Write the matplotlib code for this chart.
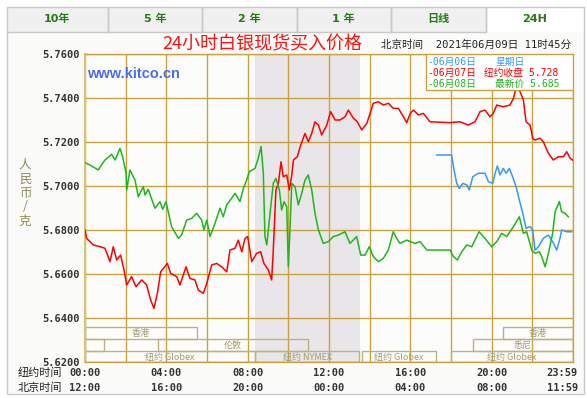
import matplotlib
matplotlib.use('Agg')
import matplotlib.pyplot as plt
from matplotlib.patches import Rectangle

# ---------------- data ----------------
green_h = [0, 0.25, 0.65, 0.98, 1.31, 1.48, 1.72, 1.85, 2.02, 2.05, 2.21, 2.46, 2.62, 2.87, 2.95, 3.11,
           3.44, 3.69, 3.82, 3.98, 4.26, 4.59, 4.75, 5.0, 5.25, 5.49, 5.74, 5.85, 5.99, 6.15, 6.39, 6.64,
           6.80, 6.97, 7.21, 7.38, 7.62, 7.79, 7.95, 8.08, 8.36, 8.52, 8.66, 8.77, 8.85, 8.94, 9.1, 9.26,
           9.39, 9.56, 9.67, 9.79, 9.92, 10.0, 10.08, 10.17, 10.33, 10.49, 10.66, 10.82, 10.98, 11.15,
           11.31, 11.48, 11.72, 11.97, 12.21, 12.46, 12.79, 13.03, 13.36, 13.56, 13.77, 13.98, 14.18,
           14.43, 14.67, 14.92, 15.16, 15.33, 15.49, 15.82, 16.23, 16.48, 16.81, 17.95, 18.12, 18.31,
           18.53, 18.77, 19.02, 19.38, 19.67, 20.0, 20.25, 20.49, 20.74, 21.07, 21.36, 21.56, 21.72,
           21.97, 22.13, 22.35, 22.46, 22.63, 22.79, 23.0, 23.12, 23.33, 23.44, 23.61, 23.77]
green_p = [5.7106, 5.7095, 5.7073, 5.7118, 5.7144, 5.7118, 5.7171, 5.7133, 5.7059, 5.6982, 5.7073,
           5.7027, 5.6951, 5.6997, 5.6959, 5.6985, 5.6899, 5.6929, 5.6894, 5.6929, 5.6815, 5.6762,
           5.6777, 5.6845, 5.6853, 5.6876, 5.6845, 5.6800, 5.6845, 5.6770, 5.6830, 5.6899, 5.6860,
           5.6914, 5.6944, 5.6967, 5.6929, 5.6989, 5.7027, 5.7065, 5.7080, 5.7126, 5.7179, 5.7058,
           5.6770, 5.6732, 5.6876, 5.7012, 5.7035, 5.6982, 5.6891, 5.6929, 5.6906, 5.6633, 5.6800,
           5.7012, 5.6997, 5.6914, 5.6967, 5.7027, 5.7050, 5.6982, 5.6876, 5.6800, 5.6739, 5.6747,
           5.6770, 5.6777, 5.6792, 5.6739, 5.6770, 5.6686, 5.6686, 5.6724, 5.6679, 5.6656, 5.6671,
           5.6709, 5.6792, 5.6762, 5.6739, 5.6754, 5.6739, 5.6747, 5.6709, 5.6709, 5.6679, 5.6664,
           5.6701, 5.6732, 5.6724, 5.6792, 5.6762, 5.6724, 5.6747, 5.6785, 5.6770, 5.6815, 5.6860,
           5.6785, 5.6792, 5.6709, 5.6694, 5.6701, 5.6679, 5.6633, 5.6694, 5.6785, 5.6883, 5.6929,
           5.6883, 5.6876, 5.6860]

red_h = [0, 0.08, 0.41, 0.74, 0.98, 1.23, 1.39, 1.56, 1.75, 1.92, 2.05, 2.29, 2.51, 2.79, 3.03, 3.23,
         3.39, 3.56, 3.72, 4.05, 4.21, 4.51, 4.67, 4.97, 5.16, 5.41, 5.57, 5.82, 5.99, 6.23, 6.48, 6.72,
         6.97, 7.13, 7.38, 7.54, 7.71, 7.87, 8.0, 8.2, 8.44, 8.64, 8.8, 9.02, 9.18, 9.26, 9.39, 9.51,
         9.64, 9.75, 9.92, 10.05, 10.17, 10.25, 10.44, 10.61, 10.82, 10.98, 11.15, 11.31, 11.48, 11.64,
         11.89, 12.08, 12.3, 12.54, 12.79, 12.95, 13.2, 13.39, 13.61, 13.86, 14.02, 14.18, 14.43, 14.67,
         14.92, 15.16, 15.41, 15.66, 15.82, 16.0, 16.15, 16.4, 16.64, 16.97, 17.95, 18.44, 18.85, 19.18,
         19.43, 19.67, 19.92, 20.08, 20.25, 20.57, 20.9, 21.07, 21.15, 21.23, 21.4, 21.56, 21.69, 21.89,
         22.02, 22.13, 22.38, 22.54, 22.79, 23.03, 23.28, 23.53, 23.69, 23.86, 23.98]
red_p = [5.6800, 5.6762, 5.6732, 5.6724, 5.6717, 5.6656, 5.6724, 5.6664, 5.6686, 5.6618, 5.6550, 5.6588,
         5.6542, 5.6573, 5.6550, 5.6482, 5.6444, 5.6512, 5.6610, 5.6648, 5.6603, 5.6588, 5.6550, 5.6633,
         5.6580, 5.6573, 5.6527, 5.6512, 5.6558, 5.6641, 5.6648, 5.6633, 5.6610, 5.6709, 5.6717, 5.6754,
         5.6701, 5.6762, 5.6770, 5.6656, 5.6694, 5.6701, 5.6648, 5.6618, 5.6573, 5.6709, 5.6982, 5.7012,
         5.7110, 5.7042, 5.7050, 5.6982, 5.7050, 5.7118, 5.7133, 5.7186, 5.7239, 5.7201, 5.7239, 5.7292,
         5.7277, 5.7232, 5.7277, 5.7338, 5.7300, 5.7300, 5.7315, 5.7345, 5.7308, 5.7292, 5.7255, 5.7285,
         5.7330, 5.7376, 5.7383, 5.7368, 5.7376, 5.7353, 5.7353, 5.7315, 5.7288, 5.7330, 5.7345, 5.7323,
         5.7330, 5.7292, 5.7288, 5.7292, 5.7277, 5.7292, 5.7338, 5.7345, 5.7315, 5.7330, 5.7368, 5.7360,
         5.7368, 5.7398, 5.7428, 5.7451, 5.7428, 5.7391, 5.7292, 5.7277, 5.7217, 5.7209, 5.7217, 5.7201,
         5.7149, 5.7118, 5.7133, 5.7133, 5.7156, 5.7126, 5.7118]

blue_h = [17.3, 18.03, 18.12, 18.28, 18.41, 18.58, 18.77, 18.9, 19.07, 19.35, 19.67, 19.84, 20.05, 20.17,
          20.28, 20.41, 20.57, 20.71, 20.87, 21.03, 21.2, 21.36, 21.53, 21.69, 21.89, 22.02, 22.13, 22.3,
          22.54, 22.79, 23.0, 23.2, 23.36, 23.44, 23.69, 23.93]
blue_p = [5.7141, 5.7141, 5.7088, 5.7012, 5.6989, 5.7012, 5.7005, 5.6982, 5.7042, 5.7058, 5.7058, 5.7020,
          5.7012, 5.7058, 5.7091, 5.7050, 5.7080, 5.7058, 5.7080, 5.7042, 5.6997, 5.6936, 5.6876, 5.6808,
          5.6815, 5.6800, 5.6709, 5.6724, 5.6762, 5.6777, 5.6747, 5.6709, 5.6762, 5.6800, 5.6792, 5.6792]

y_ticks = [5.62, 5.64, 5.66, 5.68, 5.70, 5.72, 5.74, 5.76]
x_ticks = [0, 4, 8, 12, 16, 20, 24]
ny_labels = ["00:00", "04:00", "08:00", "12:00", "16:00", "20:00", "23:59"]
bj_labels = ["12:00", "16:00", "20:00", "00:00", "04:00", "08:00", "11:59"]
tab_labels = ["10年", "5 年", "2 年", "1 年", "日线", "24H"]

nymex_span = (8.36, 13.52)
session_names = ["香港", "香港", "", "伦敦", "悉尼", "纽约 Globex", "纽约 NYMEX", "纽约 Globex", "纽约 Globex"]
session_start = [0, 20.56, 0, 3.59, 19.08, 0, 8.36, 13.62, 18.0]
session_end = [5.51, 24, 0.93, 10.97, 24, 8.36, 13.48, 17.26, 24]
session_row = [0, 0, 1, 1, 1, 2, 2, 2, 2]
row_top = [5.6359, 5.6305, 5.6250]
row_bot = [5.6305, 5.6250, 5.6200]

legend_dates = ["-06月06日", "-06月07日", "-06月08日"]
legend_notes = ["星期日", "纽约收盘 5.728", "最新价 5.685"]
colors = ["#3399ff", "#ff0000", "#1fb51f"]

# ---------------- figure ----------------
W, H = 587, 398
fig = plt.figure(figsize=(W / 100, H / 100), dpi=100)
fig.patch.set_facecolor('white')

CJK = ['Noto Sans CJK SC', 'DejaVu Sans']
MONO = ['DejaVu Sans Mono', 'Noto Sans CJK SC']
gold = '#c9a23f'

ov = fig.add_axes([0, 0, 1, 1], zorder=0)
ov.set_xlim(0, W)
ov.set_ylim(H, 0)
ov.axis('off')

# panel
ov.add_patch(Rectangle((6.5, 32), 577.5, 362, facecolor='#fbfcfa', edgecolor='none'))
ov.plot([6.5, 6.5, 584, 584], [32, 394, 394, 32], color='#c8c8c8', lw=1)
# tabs
tab_edges = [6.5, 108, 202, 297, 390.5, 486, 584]
for i, lab in enumerate(tab_labels):
    x0, x1 = tab_edges[i], tab_edges[i + 1]
    active = (i == len(tab_labels) - 1)
    ov.add_patch(Rectangle((x0, 6.5), x1 - x0, 25.5,
                           facecolor='white' if active else '#f0f0f0', edgecolor='none'))
    if active:
        ov.plot([x0, x0, x1, x1], [32, 6.5, 6.5, 32], color='#c8c8c8', lw=1)
    else:
        ov.plot([x0, x0, x1, x1, x0], [32, 6.5, 6.5, 32, 32], color='#c8c8c8', lw=1)
    ov.text((x0 + x1) / 2, 19, lab, ha='center', va='center', fontsize=8, fontweight='bold',
            color='#237a12', family=['DejaVu Sans', 'Noto Sans CJK SC'])

# titles
ov.text(262, 44, "24小时白银现货买入价格", ha='center', va='center', fontsize=13,
        color='#ff1010', family=CJK)
ov.text(571, 45, "北京时间  2021年06月09日 11时45分", ha='right', va='center', fontsize=7.6,
        color='#222222', family=MONO)
ov.text(25, 193, "\n".join("人民币/克"), ha='center', va='center', fontsize=9,
        color='#8c8a58', family=CJK, linespacing=1.1)
ov.text(18, 373, "纽约时间", ha='left', va='center', fontsize=8, color='#222222', family=CJK)
ov.text(18, 388, "北京时间", ha='left', va='center', fontsize=8, color='#222222', family=CJK)

# ---------------- main axes ----------------
ax = fig.add_axes([85 / W, (H - 362) / H, 488 / W, 308 / H], zorder=2)
ax.set_facecolor('#fcfdfb')
ax.set_xlim(0, 24)
ax.set_ylim(y_ticks[0], y_ticks[-1])
ax.set_yticks(y_ticks)
ax.set_yticklabels([f"{v:.4f}" for v in y_ticks], family='DejaVu Sans Mono', fontweight='bold',
                   fontsize=7.5, color='#333333')
ax.set_xticks(list(range(0, 25, 2)))
ax.set_xticklabels([])
ax.tick_params(length=0, pad=4)
ax.set_axisbelow(True)
ax.grid(True, color=gold, lw=1)
for s in ax.spines.values():
    s.set_color(gold)
    s.set_linewidth(1)
ax.spines['left'].set_color('#dcc07a')
ax.spines['left'].set_linewidth(1.5)

ax.axvspan(nymex_span[0], nymex_span[1], color='#e9e6ea', zorder=0.2, lw=0)

# time labels
xt = ax.get_xaxis_transform()
for i, x in enumerate(x_ticks):
    ha = 'center'
    xx = x
    if i == len(x_ticks) - 1:
        ha = 'right'
        xx = 24.25
    ax.text(xx, -0.036, ny_labels[i], transform=xt, ha=ha, va='center', family='DejaVu Sans Mono',
            fontweight='bold', fontsize=7.5, color='#333333', clip_on=False)
    ax.text(xx, -0.085, bj_labels[i], transform=xt, ha=ha, va='center', family='DejaVu Sans Mono',
            fontweight='bold', fontsize=7.5, color='#333333', clip_on=False)

# sessions
for name, a, b, r in zip(session_names, session_start, session_end, session_row):
    ax.add_patch(Rectangle((a, row_bot[r]), b - a, row_top[r] - row_bot[r], facecolor='none',
                           edgecolor='#bfb083', lw=1, zorder=1.5))
    if name:
        ax.text((a + b) / 2, (row_top[r] + row_bot[r]) / 2 - 0.0003, name, ha='center', va='center',
                fontsize=6.5, color='#a39b78', family=CJK, zorder=1.6)

# lines
ax.plot(blue_h, blue_p, color=colors[0], lw=1.1, zorder=3)
ax.plot(red_h, red_p, color=colors[1], lw=1.1, zorder=3)
ax.plot(green_h, green_p, color=colors[2], lw=1.1, zorder=3)

# watermark
ax.text(0.005, 0.935, "www.kitco.cn", transform=ax.transAxes, ha='left', va='center',
        fontsize=10.5, fontweight='bold', color='#4a6cf0', family='Liberation Sans', zorder=4)

# legend box
lx0 = (426 - 85) / 488
ly0 = (362 - 90) / 308
ax.add_patch(Rectangle((lx0, ly0), 1 - lx0, 1 - ly0, transform=ax.transAxes, facecolor='white',
                       edgecolor=gold, lw=1, zorder=5))
ly = [0.975, 0.939, 0.903]
nx = [(496 - 85) / 488, (484 - 85) / 488, (495 - 85) / 488]
for i in range(3):
    ax.text(lx0 + 0.003, ly[i], legend_dates[i], transform=ax.transAxes, ha='left', va='center',
            fontsize=7, color=colors[i], family=MONO, zorder=6)
    ax.text(nx[i], ly[i], legend_notes[i], transform=ax.transAxes, ha='left', va='center',
            fontsize=7, color=colors[i], family=MONO, zorder=6)

fig.savefig('out.png', dpi=100)
